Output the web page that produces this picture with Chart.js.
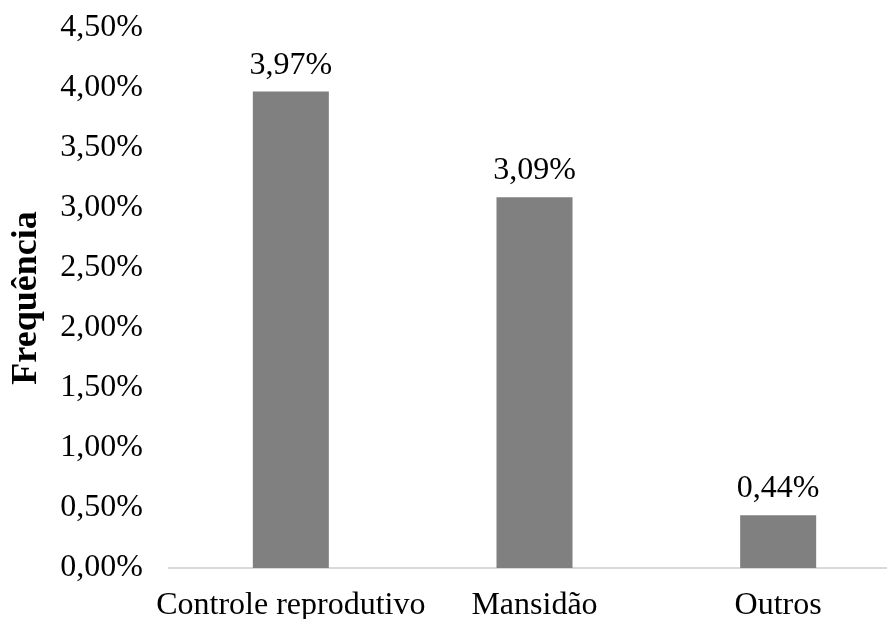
<!DOCTYPE html>
<html>
<head>
<meta charset="utf-8">
<script src="https://cdn.jsdelivr.net/npm/chart.js@4/dist/chart.umd.min.js"></script>
<style>
  html, body { margin: 0; padding: 0; background: #fff; overflow: hidden; }
  #wrap { width: 900px; height: 619px; }
</style>
</head>
<body>
<div id="wrap"><canvas id="c" width="900" height="619"></canvas></div>
<script>
// Categories and frequencies (in percent)
const categories = ['Controle reprodutivo', 'Mansidão', 'Outros'];
const frequencies = [3.97, 3.09, 0.44];
const yTicks = [0, 0.5, 1, 1.5, 2, 2.5, 3, 3.5, 4, 4.5];

const fmtPct = v => v.toFixed(2).replace('.', ',') + '%';
const SERIF = "'Liberation Serif', 'DejaVu Serif', serif";
const TEXT_SIZE = 32;

// Write each bar's value just above it
const valueLabels = {
  id: 'valueLabels',
  afterDatasetsDraw(chart) {
    const ctx = chart.ctx;
    const meta = chart.getDatasetMeta(0);
    ctx.save();
    ctx.font = TEXT_SIZE + 'px ' + SERIF;
    ctx.fillStyle = '#000';
    ctx.textAlign = 'center';
    ctx.textBaseline = 'alphabetic';
    meta.data.forEach((bar, i) => {
      ctx.fillText(fmtPct(frequencies[i]), bar.x, bar.y - 18);
    });
    ctx.restore();
  }
};

new Chart(document.getElementById('c'), {
  type: 'bar',
  data: {
    labels: categories,
    datasets: [{
      data: frequencies,
      backgroundColor: '#808080',
      borderWidth: 0,
      categoryPercentage: 1,
      barPercentage: 0.312
    }]
  },
  options: {
    responsive: false,
    animation: false,
    layout: { padding: { top: 28, right: 0, bottom: 0, left: 0 } },
    plugins: { legend: { display: false }, tooltip: { enabled: false } },
    scales: {
      x: {
        grid: { display: false, drawTicks: false },
        border: { display: true, color: '#d9d9d9', width: 2 },
        ticks: {
          color: '#000',
          font: { family: SERIF, size: TEXT_SIZE },
          padding: 18,
          maxRotation: 0,
          autoSkip: false
        },
        afterFit(s) { s.height = 51; s.paddingLeft = 0; s.paddingRight = 0; }
      },
      y: {
        min: 0, max: 4.5,
        afterBuildTicks(s) { s.ticks = yTicks.map(v => ({ value: v })); },
        grid: { display: false, drawTicks: false },
        border: { display: false },
        ticks: {
          color: '#000',
          font: { family: SERIF, size: TEXT_SIZE },
          padding: 26,
          callback: v => fmtPct(v)
        },
        title: {
          display: true,
          text: 'Frequência',
          color: '#000',
          font: { family: SERIF, size: 36, weight: 'bold' },
          padding: { top: 5, bottom: 0 }
        },
        afterFit(s) { s.width = 169; s.paddingTop = 0; s.paddingBottom = 0; }
      }
    }
  },
  plugins: [valueLabels]
});
</script>
</body>
</html>
